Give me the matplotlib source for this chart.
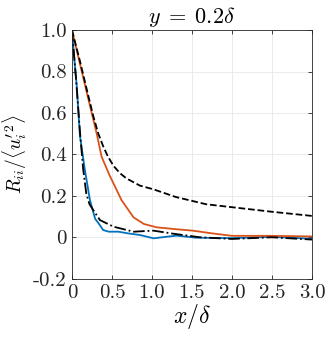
import matplotlib
matplotlib.use("Agg")
import matplotlib.pyplot as plt

plt.rcParams['mathtext.fontset'] = 'cm'
plt.rcParams['font.family'] = 'cmr10'
plt.rcParams['axes.unicode_minus'] = False

# blue solid
x_blue = [0, 0.03, 0.06, 0.1, 0.16, 0.225, 0.29, 0.33, 0.39, 0.46, 0.58, 0.7, 0.85, 1.02, 1.19, 1.31, 1.55, 2.0, 2.5, 3.0]
y_blue = [1.0, 0.86, 0.73, 0.49, 0.33, 0.18, 0.09, 0.07, 0.036, 0.028, 0.028, 0.02, 0.012, -0.004, 0.004, 0.009, -0.001, -0.003, 0.003, -0.006]

# orange solid
x_orange = [0, 0.16, 0.31, 0.37, 0.47, 0.62, 0.77, 0.9, 1.06, 1.3, 1.51, 1.75, 2.0, 2.5, 3.0]
y_orange = [1.0, 0.74, 0.50, 0.39, 0.30, 0.18, 0.097, 0.065, 0.049, 0.04, 0.033, 0.02, 0.008, 0.008, 0.005]

# black dashed
x_dash = [0, 0.1, 0.2, 0.27, 0.33, 0.39, 0.45, 0.52, 0.6, 0.68, 0.85, 1.02, 1.3, 1.68, 2.0, 2.5, 3.0]
y_dash = [1.0, 0.85, 0.69, 0.58, 0.5, 0.44, 0.39, 0.345, 0.31, 0.285, 0.25, 0.232, 0.195, 0.16, 0.146, 0.124, 0.104]

# black dash-dot
x_dd = [0, 0.05, 0.1, 0.14, 0.18, 0.22, 0.27, 0.35, 0.52, 0.77, 1.02, 1.27, 1.6, 2.0, 2.5, 3.0]
y_dd = [1.0, 0.77, 0.51, 0.33, 0.21, 0.16, 0.13, 0.084, 0.052, 0.028, 0.033, 0.018, 0.001, -0.007, 0.001, -0.01]

xticks = [0, 0.5, 1.0, 1.5, 2.0, 2.5, 3.0]
xlabels = ['0', '0.5', '1.0', '1.5', '2.0', '2.5', '3.0']
yticks = [-0.2, 0, 0.2, 0.4, 0.6, 0.8, 1.0]
ylabels = ['-0.2', '0', '0.2', '0.4', '0.6', '0.8', '1.0']

fig = plt.figure(figsize=(3.27, 3.39), dpi=100)
ax = fig.add_axes([0.220, 0.177, 0.734, 0.7345])

ax.plot(x_blue, y_blue, color='#0072BD', lw=1.3)
ax.plot(x_orange, y_orange, color='#D95319', lw=1.3)
ax.plot(x_dash, y_dash, 'k--', lw=1.3)
ax.plot(x_dd, y_dd, 'k-.', lw=1.3)

ax.set_xlim(0, 3)
ax.set_ylim(-0.2, 1.0)
ax.set_xticks(xticks)
ax.set_xticklabels(xlabels)
ax.set_yticks(yticks)
ax.set_yticklabels(ylabels)
ax.tick_params(direction='in', labelsize=15, colors='#262626', length=3, width=0.6,
               top=True, right=True, labeltop=False, labelright=False, pad=4)
for s in ax.spines.values():
    s.set_color('#262626')
    s.set_linewidth(0.6)
ax.grid(True, color='#e8e8e8', lw=0.6)
ax.set_axisbelow(True)

ax.set_xlabel(r'$x/\delta$', fontsize=17, labelpad=0)
ax.set_ylabel(r"$R_{ii}/\langle u_i'^2\rangle$", fontsize=14, labelpad=3)
ax.set_title(r'$y\;=\;0.2\delta$', fontsize=16, pad=5)

fig.savefig('out.png', dpi=100)
